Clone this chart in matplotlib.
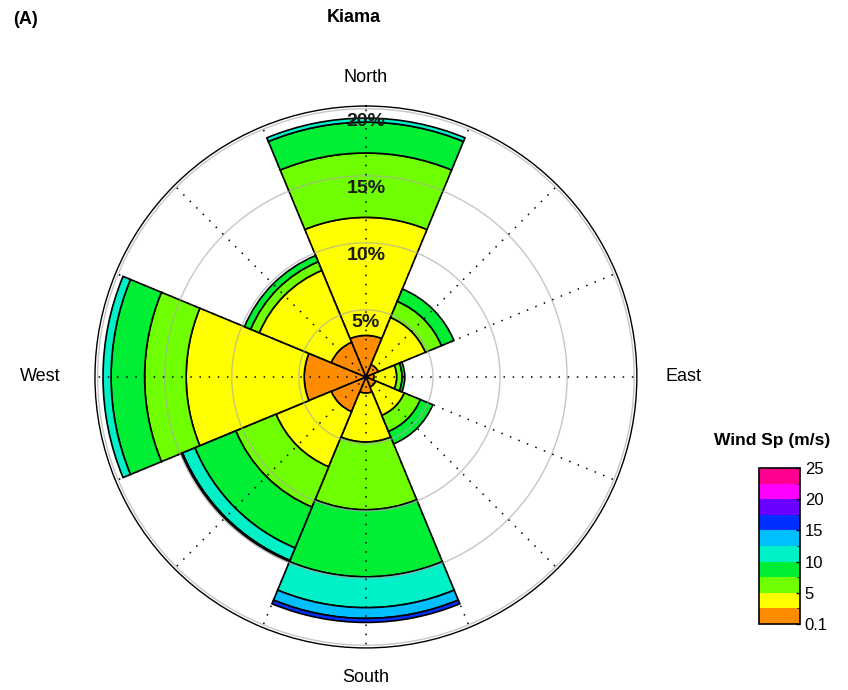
import numpy as np
import matplotlib
matplotlib.use("Agg")
import matplotlib.pyplot as plt
from matplotlib.colors import ListedColormap, BoundaryNorm
import matplotlib.colorbar as mcolorbar

plt.rcParams['font.family'] = ['Liberation Sans', 'DejaVu Sans']

# Wind directions (sector centres, degrees clockwise from North)
directions = ["N", "NE", "E", "SE", "S", "SW", "W", "NW"]
bearings_deg = [0, 45, 90, 135, 180, 225, 270, 315]

# Wind speed classes (m/s) and their colours
speed_edges = [0.1, 2.5, 5, 7.5, 10, 12.5, 15, 17.5, 20, 22.5, 25]
speed_colors = ['#FF8C00', '#FFFF00', '#70FF00', '#00EE33', '#00F0C8',
                '#00BFFF', '#0030FF', '#6A00FF', '#FF00FF', '#FF0090']

# Percentage of observations per speed class, ordered N, NE, E, SE, S, SW, W, NW
freq_0_2p5 = [3.1, 1.0, 0.6, 0.8, 1.2, 2.8, 4.6, 2.8]
freq_2p5_5 = [8.8, 3.8, 1.7, 2.3, 3.65, 4.45, 8.8, 5.8]
freq_5_7p5 = [4.8, 1.3, 0.4, 1.3, 5.05, 3.25, 3.1, 0.7]
freq_7p5_10 = [2.3, 1.0, 0.2, 1.0, 5.0, 3.3, 2.5, 0.5]
freq_10_12p5 = [0.3, 0.0, 0.0, 0.0, 2.3, 1.0, 0.6, 0.0]
freq_12p5_15 = [0.0, 0.0, 0.0, 0.0, 0.8, 0.1, 0.0, 0.0]
freq_15_17p5 = [0.0, 0.0, 0.0, 0.0, 0.3, 0.0, 0.0, 0.0]

speed_classes = [freq_0_2p5, freq_2p5_5, freq_5_7p5, freq_7p5_10,
                 freq_10_12p5, freq_12p5_15, freq_15_17p5]

ring_levels = [5, 10, 15, 20]
ring_labels = ['5%', '10%', '15%', '20%']
r_max = 20.2

fig = plt.figure(figsize=(8.48, 6.9), dpi=100)
ax = fig.add_axes([0.112, 0.0609, 0.639, 0.7855], projection='polar')
ax.set_theta_zero_location('N')
ax.set_theta_direction(-1)
ax.set_ylim(0, r_max)
ax.set_xticks([])
ax.set_yticks([])
ax.grid(False)
ax.spines['polar'].set_color('black')
ax.spines['polar'].set_linewidth(1.0)

theta = np.deg2rad(bearings_deg)
width = np.deg2rad(45)
bottom = np.zeros(len(theta))
for freq, col in zip(speed_classes, speed_colors):
    f = np.asarray(freq, dtype=float)
    m = f > 0
    ax.bar(theta[m], f[m], width=width, bottom=bottom[m], color=col,
           edgecolor='black', linewidth=1.2, zorder=2)
    bottom += f

# percentage rings
th = np.linspace(0, 2 * np.pi, 720)
for r in ring_levels:
    ax.plot(th, np.full_like(th, r), color='#a8a8a8', lw=1.0, alpha=0.65, zorder=3)

# dotted spokes every 22.5 degrees
for k in range(16):
    a = np.deg2rad(k * 22.5)
    ax.plot([a, a], [0, r_max], color='black', lw=1.1,
            linestyle=(0, (1, 5)), zorder=4)

# ring labels along the north axis
for r, lab in zip(ring_levels, ring_labels):
    ax.text(0, r - 0.95, lab, ha='center', va='center', fontsize=14,
            fontweight='bold', color='#1a1a1a', zorder=5)

# compass labels
ax.text(0, 22.3, 'North', ha='center', va='center', fontsize=13, clip_on=False)
ax.text(np.pi, 22.4, 'South', ha='center', va='center', fontsize=13, clip_on=False)
ax.text(np.pi / 2, 23.7, 'East', ha='center', va='center', fontsize=13, clip_on=False)
ax.text(3 * np.pi / 2, 24.3, 'West', ha='center', va='center', fontsize=13, clip_on=False)

fig.text(354 / 848, 1 - 17 / 690, 'Kiama', ha='center', va='center',
         fontsize=13, fontweight='bold')
fig.text(25 / 848, 1 - 20 / 690, '(A)', ha='center', va='center',
         fontsize=13, fontweight='bold')

# speed colour bar
cax = fig.add_axes([0.895, 0.0957, 0.0483, 0.226])
cmap = ListedColormap(speed_colors)
norm = BoundaryNorm(speed_edges, cmap.N)
cb = mcolorbar.ColorbarBase(cax, cmap=cmap, norm=norm, spacing='uniform',
                            ticks=[0.1, 5, 10, 15, 20, 25])
cb.ax.set_yticklabels(['0.1', '5', '10', '15', '20', '25'])
cb.ax.tick_params(labelsize=12, direction='in', length=3, width=1)
cb.ax.yaxis.set_ticks([2.5, 7.5, 12.5, 17.5, 22.5], minor=True)
cb.ax.tick_params(which='minor', direction='in', length=2)
cb.outline.set_linewidth(1.2)
fig.text(772 / 848, 1 - 441 / 690, 'Wind Sp (m/s)', ha='center', va='center',
         fontsize=12.5, fontweight='bold')

fig.savefig('out.png', dpi=100)
